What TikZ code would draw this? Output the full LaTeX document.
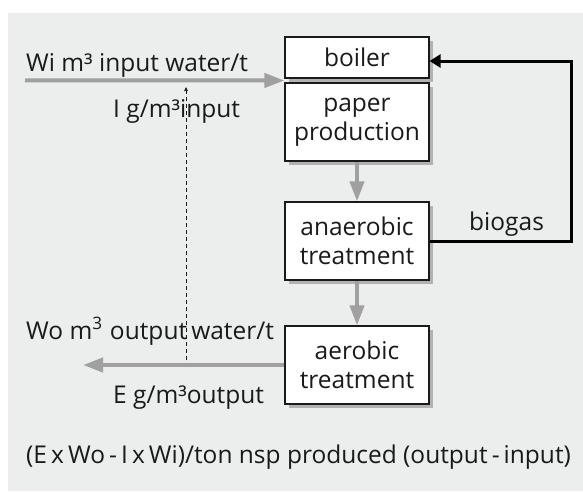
\documentclass[tikz,border=0pt]{standalone}
\usepackage{fontspec}
\setmainfont{Open Sans}
\usetikzlibrary{arrows.meta,calc,shadows}
\definecolor{bg}{HTML}{ECEDED}
\definecolor{arrgray}{HTML}{A0A0A0}
\definecolor{shad}{HTML}{B2B2B2}
\definecolor{ink}{HTML}{1A1A1A}
\begin{document}
\begin{tikzpicture}[x=1pt,y=-1pt,
  txt/.style={font=\fontsize{24.5}{29}\selectfont, text=ink},
  box/.style={txt, draw=ink, line width=1.2pt, fill=white, minimum width=144pt,
    inner sep=0pt, align=center,
    drop shadow={shadow xshift=4pt, shadow yshift=-4pt, fill=shad, opacity=1}},
  lbl/.style={txt, inner sep=0pt, anchor=base west},
  garrow/.style={draw=arrgray, line width=4pt, -{Triangle[length=20pt,width=14pt]}},
  gasline/.style={draw=black, line width=3pt, line join=miter, -{Triangle[length=11pt,width=13pt]}},
  dashline/.style={draw=ink, line width=0.7pt, dash pattern=on 4pt off 3pt, -{Triangle[length=4pt,width=3.5pt]}}
]
\useasboundingbox (0,0) rectangle (583,491);
\fill[bg] (8,13) rectangle (583,491);

\node[box, minimum height=41pt] (boiler) at (357,57.5) {boiler};
\node[box, minimum height=78pt] (paper) at (357,122) {paper\\production};
\node[box, minimum height=78pt] (anaer) at (357,241) {anaerobic\\treatment};
\node[box, minimum height=78pt] (aer) at (357,365) {aerobic\\treatment};

\coordinate (inStart) at (25,80.3);
\coordinate (inEnd) at ($(boiler.south west)!0.5!(paper.north west)$);
\draw[garrow] (inStart) -- (inEnd);
\draw[garrow] (paper.south) -- (anaer.north);
\draw[garrow] (anaer.south) -- (aer.north);
\coordinate (outEnd) at (83,365);
\draw[garrow] (aer.west) -- (outEnd);

\coordinate (dBot) at (186,360);
\coordinate (dTop) at (186,87);
\draw[dashline] (dBot) -- (dTop);

\draw[gasline] (anaer.east) -- ++(142,0) |- ($(boiler.east)+(0,3.5)$);

\node[lbl] (wi) at (26,71) {Wi m³ input water/t};
\node[lbl] (ig) at (113,117) {I g/m³input};
\node[lbl] (gas) at (469,230) {biogas};
\node[lbl] (wo) at (26,339) {Wo m\textsuperscript{3}\hspace{0.3em}output\,water/t};
\node[lbl] (eg) at (113,403) {E g/m³output};
\node[lbl] (form) at (26,463) {(E\,x\,Wo\,-\,I\,x\,Wi)/ton nsp produced (output\,-\,input)};
\end{tikzpicture}
\end{document}
